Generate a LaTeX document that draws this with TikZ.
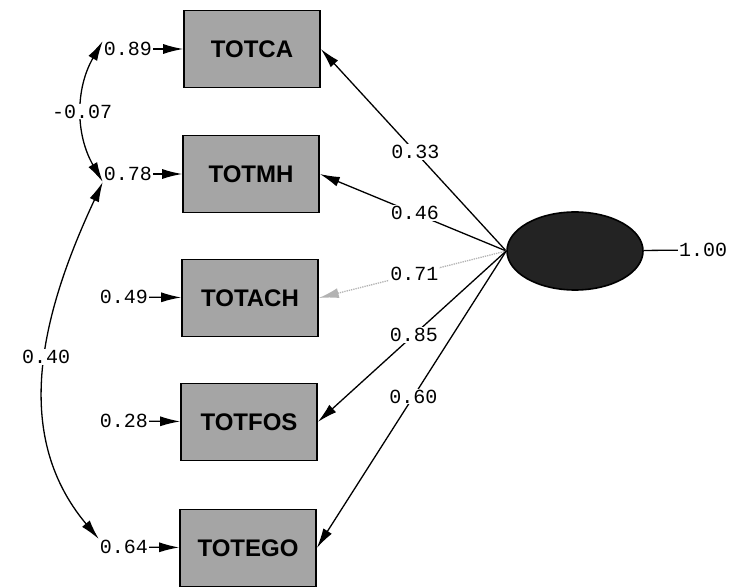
\documentclass[tikz,border=0pt]{standalone}
\usepackage{fontspec}
\setmainfont{Liberation Sans}
\newfontfamily\pathfont{Liberation Mono}
\usepackage{tikz}
\usepackage{xcolor}
\usetikzlibrary{arrows.meta,positioning,shapes.geometric}
\definecolor{boxgray}{RGB}{165,165,165}
\definecolor{latentgray}{RGB}{35,35,35}

\begin{document}
\begin{tikzpicture}[x=1pt, y=1pt, >={Latex[length=20pt,width=10pt]},
    obsbox/.style={draw, line width=1.6pt, fill=boxgray, minimum width=136pt, minimum height=77pt, font=\bfseries\fontsize{24}{26}\selectfont},
    latent/.style={draw, ellipse, line width=1.6pt, fill=latentgray, minimum width=136pt, minimum height=78pt},
    coef/.style={font=\pathfont\fontsize{20}{22}\selectfont, inner sep=1pt},
    path/.style={line width=1.3pt}]
  \useasboundingbox (0,0) rectangle (738,587);
  % observed indicators
  \node[obsbox] (ca) at (252,538) {TOTCA};
  \node[obsbox] (mh) at (251,413) {TOTMH};
  \node[obsbox] (ach) at (250,289) {TOTACH};
  \node[obsbox] (fos) at (249,165) {TOTFOS};
  \node[obsbox] (ego) at (248,39) {TOTEGO};
  % latent factor
  \node[latent] (f) at (575,336) {};
  \node[coef] (v) at (703,337) {1.00};
  \draw[path] (f) -- (v);
  % error terms
  \node[coef] (e1) at (128,538) {0.89};
  \node[coef] (e2) at (128,413) {0.78};
  \node[coef] (e3) at (124,290) {0.49};
  \node[coef] (e4) at (124,166) {0.28};
  \node[coef] (e5) at (124,40) {0.64};
  \draw[path,->] (e1) -- (ca);
  \draw[path,->] (e2) -- (mh);
  \draw[path,->] (e3) -- (ach);
  \draw[path,->] (e4) -- (fos);
  \draw[path,->] (e5) -- (ego);
  % loadings
  \draw[path,->] (f.west) -- node[coef, pos=0.49, fill=white] {0.33} (ca.east);
  \draw[path,->] (f.west) -- node[coef, pos=0.49, fill=white] {0.46} (mh.east);
  \draw[path,->, densely dotted, gray!60] (f.west) -- node[coef, pos=0.49, fill=white, text=black] {0.71} (ach.east);
  \draw[path,->] (f.west) -- node[coef, pos=0.49, fill=white] {0.85} (fos.east);
  \draw[path,->] (f.west) -- node[coef, pos=0.49, fill=white] {0.60} (ego.east);
  % error covariances
  \draw[path,<->] (e1.north west) to[out=240, in=120] node[coef, fill=white] {-0.07} (e2.south west);
  \draw[path,<->] (e2.south west) to[out=245, in=130] node[coef, fill=white, pos=0.47] {0.40} (e5.north west);
\end{tikzpicture}
\end{document}
